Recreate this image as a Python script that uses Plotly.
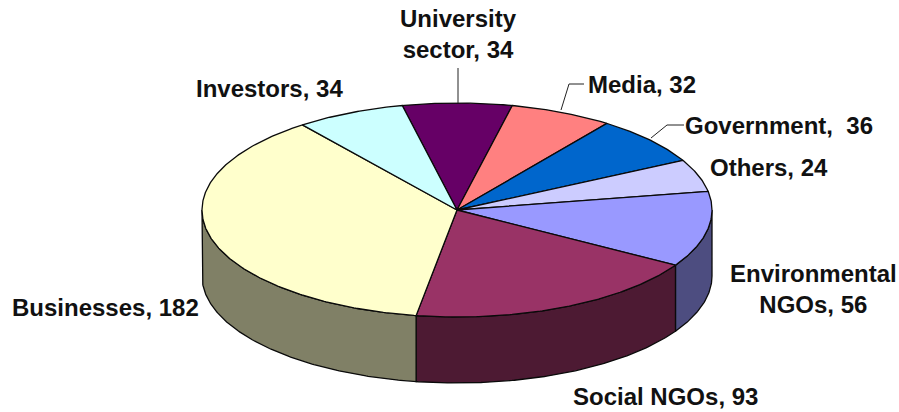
import numpy as np
import plotly.graph_objects as go

# Segments run clockwise, starting at the University sector slice
categories = ["University sector", "Media", "Government", "Others",
              "Environmental NGOs", "Social NGOs", "Businesses", "Investors"]
values = [34, 32, 36, 24, 56, 93, 182, 34]
top_colors = ["#660066", "#FF8080", "#0066CC", "#CCCCFF",
              "#9999FF", "#993366", "#FFFFCC", "#CCFFFF"]
side_colors = ["#330033", "#804040", "#003366", "#666680",
               "#4D4D80", "#4D1A33", "#808066", "#668080"]
label_text = ["University<br>sector, 34", "Media, 32", "Government,  36", "Others, 24",
              "Environmental<br>NGOs, 56", "Social NGOs, 93", "Businesses, 182", "Investors, 34"]

# Label anchor points in the pixel-sized plot area
label_x = [458, 642, 779, 769, 813, 665, 105, 269]
label_y = [34, 84, 125, 167, 289, 396, 307, 88]

# Projected disc geometry
CX, CY = 457, 210
RX, RY = 255, 107
DEPTH = 66
START_DEG = -12.4
EDGE = "#0a0a0a"


def rim(a0, a1):
    """Points along the top rim between two clockwise-from-top angles."""
    steps = max(2, int(abs(a1 - a0)) * 2)
    t = np.radians(np.linspace(a0, a1, steps))
    return CX + RX * np.sin(t), CY - RY * np.cos(t)


fig = go.Figure()


def add_shape(xs, ys, color, line_width=1.3):
    fig.add_trace(go.Scatter(
        x=xs, y=ys, mode="lines", fill="toself", fillcolor=color,
        line=dict(color=EDGE, width=line_width), hoverinfo="skip", showlegend=False,
    ))


total = sum(values)
edges = START_DEG + np.cumsum([0] + values) * 360.0 / total

# Outer wall: only the front half of the rim (90 to 270 degrees) is visible
for i in range(len(values)):
    a0, a1 = max(edges[i], 90.0), min(edges[i + 1], 270.0)
    if a1 > a0:
        x, y = rim(a0, a1)
        add_shape(np.r_[x, x[::-1], x[0]], np.r_[y, y[::-1] + DEPTH, y[0]], side_colors[i])

# Top face wedges
for i in range(len(values)):
    x, y = rim(edges[i], edges[i + 1])
    add_shape(np.r_[CX, x, CX], np.r_[CY, y, CY], top_colors[i])

# Leader lines for the three labels set away from their slices
leaders = [([458, 458], [68, 103]),
           ([584, 569, 561], [84, 84, 110]),
           ([684, 667, 651], [125, 125, 138])]
for lx, ly in leaders:
    fig.add_trace(go.Scatter(x=lx, y=ly, mode="lines", line=dict(color="#222222", width=1),
                             hoverinfo="skip", showlegend=False))

for text, x, y in zip(label_text, label_x, label_y):
    fig.add_annotation(x=x, y=y, text=text, showarrow=False, xanchor="center", yanchor="middle",
                       align="center",
                       font=dict(family="Liberation Sans", size=24, weight=700, color="#111111"))

fig.update_xaxes(visible=False, range=[0, 899], fixedrange=True)
fig.update_yaxes(visible=False, range=[412, 0], fixedrange=True)
fig.update_layout(width=899, height=412, margin=dict(l=0, r=0, t=0, b=0),
                  paper_bgcolor="white", plot_bgcolor="white")
fig.write_html("out.html", config={"displayModeBar": False})
